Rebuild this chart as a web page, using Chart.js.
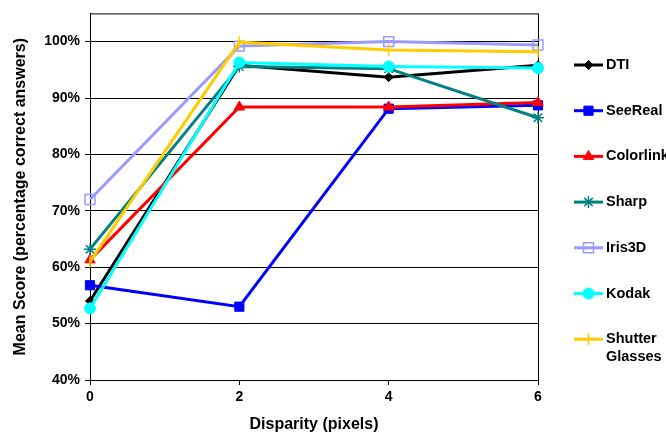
<!DOCTYPE html>
<html>
<head>
<meta charset="utf-8">
<script src="https://cdn.jsdelivr.net/npm/chart.js@4.4.1/dist/chart.umd.min.js"></script>
<style>
  html, body { margin: 0; padding: 0; background: #fff; }
</style>
</head>
<body>
<canvas id="chart" width="666" height="438"></canvas>
<script>
// data
const disparity = ['0', '2', '4', '6'];
const seriesNames = ['DTI', 'SeeReal', 'Colorlink', 'Sharp', 'Iris3D', 'Kodak', 'Shutter Glasses'];
const dti = [54.0, 95.8, 93.7, 95.8];
const seeReal = [56.8, 53.0, 88.1, 88.7];
const colorlink = [61.3, 88.4, 88.4, 89.2];
const sharp = [63.2, 95.6, 95.2, 86.5];
const iris3d = [72.0, 99.2, 100.0, 99.4];
const kodak = [52.7, 96.3, 95.6, 95.3];
const shutterGlasses = [61.0, 99.9, 98.5, 98.2];
const yTicks = [40, 50, 60, 70, 80, 90, 100];

const seriesValues = [dti, seeReal, colorlink, sharp, iris3d, kodak, shutterGlasses];
const colors = ['#000000', '#0000ff', '#ff0000', '#008080', '#9999ff', '#00ffff', '#ffcc00'];
const markers = ['rectRot', 'rect', 'triangle', 'star', 'rect', 'circle', 'line'];
const radii = [4.5, 6.5, 6, 6, 7, 5.5, 6];
const FONT = '"Liberation Sans", Arial, sans-serif';

const datasets = seriesValues.map((vals, i) => ({
    label: seriesNames[i],
    data: vals,
    borderColor: colors[i],
    backgroundColor: i === 4 ? 'rgba(0,0,0,0)' : colors[i],
    pointBorderColor: colors[i],
    pointBackgroundColor: i === 4 ? 'rgba(0,0,0,0)' : colors[i],
    borderWidth: 3,
    pointStyle: markers[i],
    pointRadius: radii[i],
    pointBorderWidth: (i === 3 || i === 4 || i === 6) ? 1.5 : 1,
    pointRotation: i === 6 ? 90 : 0,
    tension: 0,
    order: seriesNames.length - i
}));

// plot frame + right-hand legend
const framePlugin = {
    id: 'frame',
    beforeDatasetsDraw(chart) {
        const { ctx, chartArea: a } = chart;
        ctx.save();
        ctx.strokeStyle = '#000';
        ctx.lineWidth = 1;
        ctx.strokeRect(a.left + 0.5, a.top + 0.5, a.right - a.left, a.bottom - a.top);
        ctx.restore();
    },
    afterDraw(chart) {
        const ctx = chart.ctx;
        const x0 = 574, x1 = 603, tx = 606;
        ctx.save();
        chart.data.datasets.forEach((ds, i) => {
            const y = 65 + i * 45.7;
            ctx.strokeStyle = ds.borderColor;
            ctx.lineWidth = 3;
            ctx.beginPath();
            ctx.moveTo(x0, y);
            ctx.lineTo(x1, y);
            ctx.stroke();
            ctx.fillStyle = ds.pointBackgroundColor;
            ctx.strokeStyle = ds.pointBorderColor;
            ctx.lineWidth = ds.pointBorderWidth;
            Chart.helpers.drawPoint(ctx, {
                pointStyle: ds.pointStyle,
                radius: ds.pointRadius,
                rotation: ds.pointRotation,
                borderWidth: ds.pointBorderWidth
            }, (x0 + x1) / 2, y);
            ctx.fillStyle = '#000';
            ctx.font = 'bold 14.5px ' + FONT;
            ctx.textBaseline = 'middle';
            ctx.textAlign = 'left';
            ds.label.split(' ').forEach((word, k) => {
                ctx.fillText(word, tx, y + k * 18);
            });
        });
        ctx.restore();
    }
};

new Chart(document.getElementById('chart'), {
    type: 'line',
    data: { labels: disparity, datasets: datasets },
    plugins: [framePlugin],
    options: {
        responsive: false,
        animation: false,
        layout: { padding: { left: 0, right: 128, top: 12, bottom: 0 } },
        plugins: { legend: { display: false }, tooltip: { enabled: false } },
        scales: {
            x: {
                type: 'category',
                offset: false,
                border: { display: true, color: '#000', width: 1 },
                grid: { display: true, drawOnChartArea: false, color: '#000', tickLength: 5 },
                ticks: { color: '#000', font: { family: FONT, size: 14, weight: 'bold' }, padding: 4, maxRotation: 0 },
                title: { display: true, text: 'Disparity (pixels)', color: '#000', font: { family: FONT, size: 16, weight: 'bold' }, padding: { top: 0, bottom: 4 } },
                afterFit(scale) { scale.height = 58; }
            },
            y: {
                min: 40,
                max: 105,
                border: { display: true, color: '#000', width: 1 },
                grid: { color: '#000', lineWidth: 1, tickLength: 5 },
                afterBuildTicks(scale) { scale.ticks = yTicks.map(v => ({ value: v })); },
                ticks: {
                    color: '#000',
                    font: { family: FONT, size: 14, weight: 'bold' },
                    padding: 5,
                    callback: v => v + '%'
                },
                title: { display: true, text: 'Mean Score (percentage correct answers)', color: '#000', font: { family: FONT, size: 16, weight: 'bold' }, padding: { top: 11, bottom: 0 } },
                afterFit(scale) { scale.width = 90; }
            }
        }
    }
});
</script>
</body>
</html>
